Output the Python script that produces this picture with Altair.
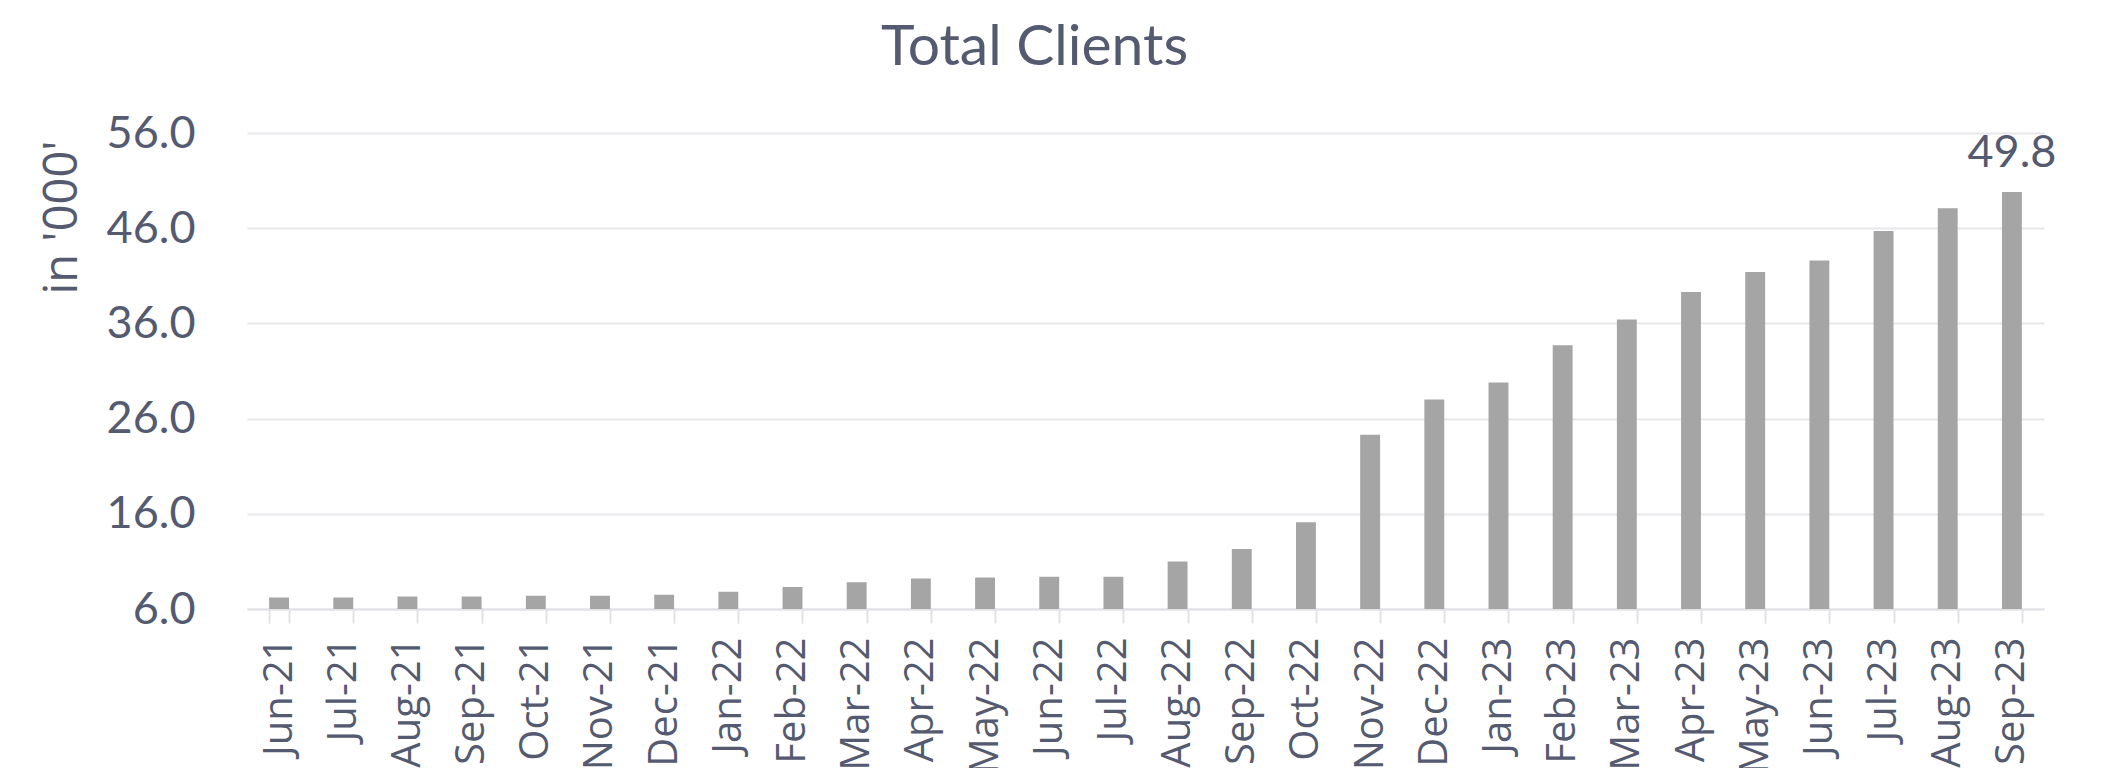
import altair as alt
import pandas as pd

months = ["Jun-21", "Jul-21", "Aug-21", "Sep-21", "Oct-21", "Nov-21", "Dec-21",
          "Jan-22", "Feb-22", "Mar-22", "Apr-22", "May-22", "Jun-22", "Jul-22",
          "Aug-22", "Sep-22", "Oct-22", "Nov-22", "Dec-22", "Jan-23", "Feb-23",
          "Mar-23", "Apr-23", "May-23", "Jun-23", "Jul-23", "Aug-23", "Sep-23"]
clients = [7.2, 7.2, 7.3, 7.3, 7.4, 7.4, 7.5,
           7.8, 8.3, 8.8, 9.2, 9.3, 9.4, 9.4,
           11.0, 12.3, 15.1, 24.3, 28.0, 29.8, 33.7,
           36.4, 39.3, 41.4, 42.6, 45.7, 48.1, 49.8]
y_ticks = [6, 16, 26, 36, 46, 56]
labelled = ["Sep-23"]

TEXT = "#545a70"

df = pd.DataFrame({"month": months, "clients": clients})

x = alt.X("month:N", sort=months, title=None,
          scale=alt.Scale(paddingInner=0.69, paddingOuter=0.345),
          axis=alt.Axis(labelAngle=270, labelFont="Open Sans", labelFontSize=40,
                        labelColor=TEXT, labelPadding=14, tickBand="extent",
                        ticks=True, tickSize=14, tickColor="#e2e2e6", tickWidth=2,
                        domainColor="#e2e2e6", domainWidth=2, grid=False))
y = alt.Y("clients:Q", title="in '000'",
          scale=alt.Scale(domain=[6, 56], nice=False, zero=False),
          axis=alt.Axis(values=y_ticks, format=".1f", labelFont="Lato",
                        labelFontSize=45, labelColor=TEXT, labelPadding=52,
                        ticks=False, domain=False, grid=True,
                        gridColor="#e8e8ec", gridWidth=2,
                        titleFont="Open Sans", titleFontSize=47, titleColor=TEXT,
                        titleFontWeight="normal", titleAngle=270,
                        titleX=-185, titleY=84, titleAlign="center",
                        titleBaseline="middle"))

bars = alt.Chart(df).mark_bar(color="#a5a5a5", clip=True).encode(x=x, y=y)

text = alt.Chart(df).transform_filter(
    alt.FieldOneOfPredicate(field="month", oneOf=labelled)
).mark_text(font="Lato", fontSize=45, color=TEXT, baseline="alphabetic",
            align="center", dy=-25).encode(
    x=alt.X("month:N", sort=months),
    y=alt.Y("clients:Q"),
    text=alt.Text("clients:Q", format=".1f"))

chart = alt.layer(bars, text).properties(
    width=1797, height=476,
    autosize=alt.AutoSizeParams(type="none"),
    padding={"left": 239, "top": 125, "right": 50, "bottom": 159},
    title=alt.TitleParams("Total Clients", font="Lato", fontSize=57,
                          fontWeight="normal", color=TEXT, anchor="middle",
                          offset=34, dx=-111),
).configure_view(stroke=None)

chart.save("out.html", embed_options={"renderer": "svg", "actions": False})
